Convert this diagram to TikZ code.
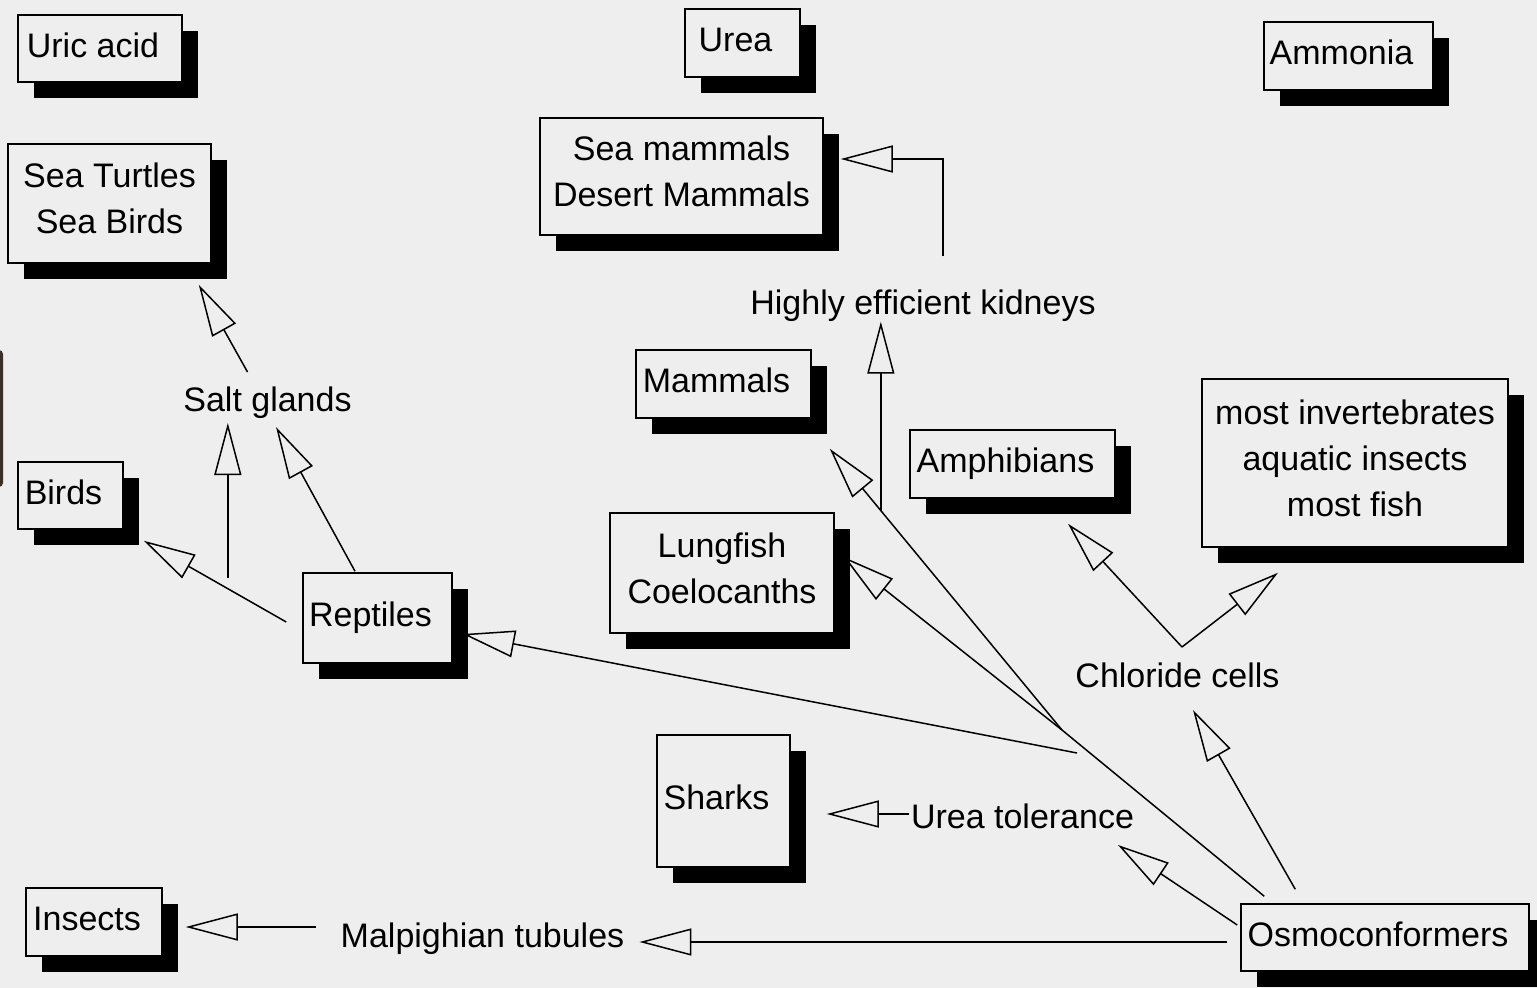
\documentclass[tikz,border=0pt]{standalone}
\usepackage{fontspec}
\setmainfont{Liberation Sans}
\usetikzlibrary{arrows.meta,calc,shadows}
\definecolor{bg}{RGB}{238,238,238}
\definecolor{edgebar}{RGB}{58,48,40}
\newcommand{\mlines}[1]{\raisebox{2pt}[\height][\depth]{\begin{tabular}{@{}c@{}}#1\end{tabular}}}
\begin{document}
\begin{tikzpicture}[x=1pt,y=-1pt,
  txt/.style={font=\fontsize{34}{46}\selectfont, inner sep=0pt, text height=24pt, text depth=7pt},
  box/.style={draw=black, line width=1.5pt, fill=bg, inner sep=0pt,
    font=\fontsize{34}{46}\selectfont,
    drop shadow={shadow xshift=16pt, shadow yshift=-16pt, opacity=1, fill=black}},
  onebox/.style={box, text height=24pt, text depth=7pt, execute at begin node={\kern-14pt}},
  multibox/.style={box},
  arr/.style={line width=1.5pt, -{Triangle[open,length=52pt,width=27pt]}},
  ln/.style={line width=1.5pt}]
\useasboundingbox (0,0) rectangle (1537,988);
\fill[bg] (0,0) rectangle (1537,988);
\fill[edgebar, rounded corners=4pt] (-8,350) rectangle (3,487);

% boxes
\node[onebox, minimum width=164pt, minimum height=67pt] (uric) at (100,48.5) {Uric acid};
\node[multibox, minimum width=203pt, minimum height=119pt] (turtles) at (109.5,203.5) {\mlines{Sea Turtles\\Sea Birds}};
\node[onebox, minimum width=115pt, minimum height=68pt] (urea) at (742.5,43) {Urea};
\node[onebox, minimum width=169pt, minimum height=68pt] (ammonia) at (1348.5,56) {Ammonia};
\node[multibox, minimum width=283pt, minimum height=117pt] (seamam) at (681.5,176.5) {\mlines{Sea mammals\\Desert Mammals}};
\node[onebox, minimum width=175pt, minimum height=68pt] (mammals) at (723.5,384) {Mammals};
\node[onebox, minimum width=205pt, minimum height=68pt] (amphib) at (1012.5,464) {Amphibians};
\node[multibox, minimum width=224pt, minimum height=120pt] (lungfish) at (722,573) {\mlines{Lungfish\\Coelocanths}};
\node[multibox, minimum width=306pt, minimum height=168pt] (invert) at (1355,463) {\mlines{most invertebrates\\aquatic insects\\most fish}};
\node[onebox, minimum width=105pt, minimum height=67pt] (birds) at (70.5,495.5) {Birds};
\node[onebox, minimum width=149pt, minimum height=90pt] (reptiles) at (377.5,618) {Reptiles};
\node[onebox, minimum width=133pt, minimum height=132pt] (sharks) at (723.5,801) {Sharks};
\node[onebox, minimum width=288pt, minimum height=67pt] (osmo) at (1385,937.5) {Osmoconformers};
\node[onebox, minimum width=136pt, minimum height=68pt] (insects) at (94,922) {Insects};

% free labels
\node[txt] (kidneys) at (923,306) {Highly efficient kidneys};
\node[txt] (salt) at (267.5,403) {Salt glands};
\node[txt] (chloride) at (1177.5,678.5) {Chloride cells};
\node[txt] (ureatol) at (1022.5,820) {Urea tolerance};
\node[txt] (malp) at (482.5,939) {Malpighian tubules};

% helper coordinates
\coordinate (J) at (1062,730);
\coordinate (cS) at ($(reptiles.west)+(-16,4)$);
\coordinate (cT) at ($(birds.south east)+(20,11)$);
\coordinate (mamtip) at ($(mammals.south east)+(18,30)$);
\coordinate (K) at ($(J)!0.78!(mamtip)$);
\coordinate (br) at ($(cS)!0.41!(cT)+(0,-11)$);
\coordinate (sgt) at ($(salt.center)+(-38,20)$);
\coordinate (Jr) at ($(J)+(15,23)$);
\coordinate (cc) at ($(chloride.center)+(4.5,-31.5)$);

% connectors
\draw[arr] ($(salt.center)+(-20,-31)$) -- ($(turtles.south east)+(-13,21)$);
\draw[arr] (br) -- (br |- sgt);
\draw[arr] ($(reptiles.north)+(-22.5,-1)$) -- ($(salt.center)+(8.5,24)$);
\draw[arr] (cS) -- (cT);
\draw[arr] (Jr) -- ($(reptiles.east)+(10,16)$);
\draw[ln] ($(osmo.north west)+(24,-7)$) -- (J);
\draw[arr] (J) -- (mamtip);
\draw[arr] (J) -- ($(lungfish.east)+(9,-16)$);
\draw[arr] (K) -- (K |- kidneys.south);
\draw[arr] ($(kidneys.north)+(20,-34)$) |- ($(seamam.east)+(17,-17.5)$);
\draw[arr] (cc) -- ($(amphib.south)+(55.5,25)$);
\draw[arr] (cc) -- ($(invert.south)+(-77,25)$);
\draw[arr] ($(osmo.north west)+(55,-14)$) -- ($(chloride.center)+(15.5,31.5)$);
\draw[arr] ($(osmo.west)+(-3,-12.5)$) -- ($(ureatol.center)+(95.5,25)$);
\draw[arr] ($(ureatol.west)+(-2,-6)$) -- ($(sharks.east)+(36,13)$);
\draw[arr] ($(osmo.west)+(-13,4.5)$) -- ($(malp.east)+(15,3)$);
\draw[arr] ($(malp.west)+(-25,-12)$) -- ($(insects.east)+(23,5)$);
\end{tikzpicture}
\end{document}
